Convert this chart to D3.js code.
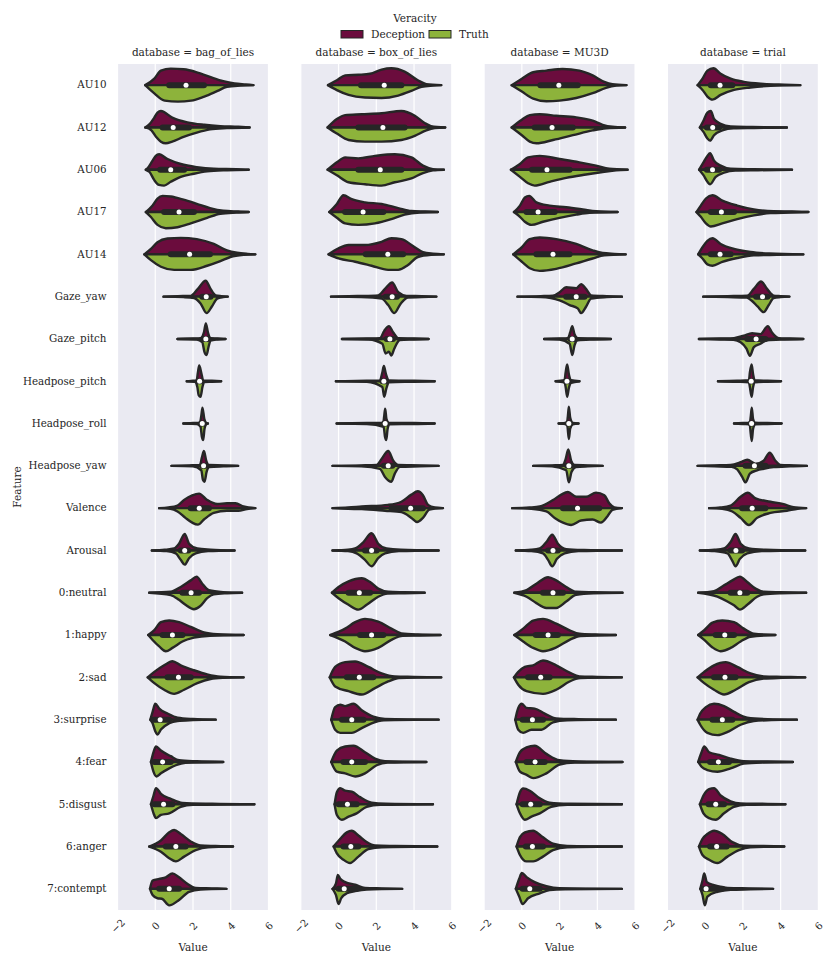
<!DOCTYPE html>
<html>
<head>
<meta charset="utf-8">
<script src="https://cdn.jsdelivr.net/npm/d3@7.9.0/dist/d3.min.js"></script>
<style>
  body { margin: 0; background: #fff; }
  text { font-family: "DejaVu Serif", serif; fill: #262626; }
</style>
</head>
<body>
<svg id="chart" width="831" height="965"></svg>
<script>
const features = ["AU10", "AU12", "AU06", "AU17", "AU14", "Gaze_yaw", "Gaze_pitch", "Headpose_pitch",
  "Headpose_roll", "Headpose_yaw", "Valence", "Arousal", "0:neutral", "1:happy", "2:sad", "3:surprise",
  "4:fear", "5:disgust", "6:anger", "7:contempt"];
const databases = ["bag_of_lies", "box_of_lies", "MU3D", "trial"];
const hues = ["Deception", "Truth"];
const xTicks = [-2, 0, 2, 4, 6];

// each violin half: [value, relative density]; boxes: [q1, median, q3]
const bagDeception = [
  [[-0.53,0],[-0.05,0.4],[0.3,0.88],[0.82,1.0],[1.5,0.96],[2.2,0.78],[2.9,0.5],[3.6,0.24],[4.2,0.1],[4.8,0.04],[5.2,0]],
  [[-0.53,0],[-0.3,0.2],[-0.05,0.6],[0.12,0.9],[0.3,1.0],[0.9,0.6],[1.7,0.31],[2.6,0.16],[3.45,0.08],[4.4,0.04],[5.0,0]],
  [[-0.5,0],[-0.4,0.1],[-0.14,0.55],[0.03,0.84],[0.2,0.94],[0.65,0.65],[1.35,0.35],[2.2,0.16],[3.1,0.06],[4.3,0.03],[4.95,0]],
  [[-0.5,0],[-0.14,0.4],[0.12,0.82],[0.39,0.98],[0.82,0.94],[1.5,0.75],[2.2,0.5],[2.9,0.24],[3.6,0.08],[4.4,0.03],[4.95,0]],
  [[-0.58,0],[-0.23,0.33],[0.12,0.73],[0.65,0.96],[1.35,1.0],[2.2,0.92],[3.1,0.63],[3.8,0.24],[4.33,0.1],[4.9,0.03],[5.3,0]],
  [[0.44,0],[1.2,0.03],[1.88,0.05],[2.26,0.47],[2.67,0.96],[2.93,0.47],[3.2,0.08],[3.5,0.03],[3.84,0]],
  [[1.18,0],[2.0,0.03],[2.4,0.05],[2.58,0.4],[2.68,0.94],[2.79,0.4],[2.93,0.05],[3.3,0.03],[3.72,0]],
  [[1.67,0],[2.0,0.03],[2.19,0.05],[2.26,0.53],[2.33,0.96],[2.44,0.5],[2.54,0.05],[3.0,0.03],[3.49,0]],
  [[1.49,0],[2.0,0.03],[2.37,0.05],[2.44,0.47],[2.5,0.96],[2.6,0.27],[2.7,0.04],[2.79,0]],
  [[0.86,0],[1.8,0.03],[2.37,0.06],[2.47,0.5],[2.58,0.9],[2.7,0.31],[2.84,0.05],[3.6,0.03],[4.39,0]],
  [[0.21,0],[0.7,0.04],[1.18,0.16],[1.53,0.5],[1.96,0.78],[2.32,0.88],[2.75,0.5],[3.28,0.25],[3.8,0.3],[4.25,0.3],[4.68,0.1],[5.3,0]],
  [[-0.18,0],[0.5,0.04],[1.0,0.12],[1.26,0.41],[1.56,1.0],[1.79,0.41],[2.23,0.12],[2.93,0.05],[4.2,0]],
  [[-0.32,0],[0.82,0.06],[1.35,0.35],[1.88,0.75],[2.19,0.98],[2.49,0.55],[2.84,0.16],[3.6,0.04],[4.6,0]],
  [[-0.37,0],[-0.05,0.3],[0.3,0.78],[0.74,0.88],[1.26,0.78],[1.88,0.49],[2.58,0.16],[3.28,0.05],[4.68,0]],
  [[-0.4,0],[-0.05,0.33],[0.47,0.73],[0.91,0.98],[1.35,0.73],[2.05,0.43],[2.75,0.18],[3.45,0.04],[4.68,0]],
  [[-0.26,0],[-0.14,0.47],[0,0.96],[0.21,0.67],[0.65,0.37],[1.18,0.12],[2.0,0.04],[3.2,0]],
  [[-0.23,0],[-0.09,0.6],[0.04,0.94],[0.3,0.69],[0.82,0.35],[1.26,0.1],[2.2,0.04],[3.6,0]],
  [[-0.23,0],[-0.09,0.53],[0.04,0.98],[0.3,0.63],[0.82,0.33],[1.44,0.08],[3.0,0.03],[5.25,0]],
  [[-0.32,0],[0.3,0.37],[0.74,0.86],[1.0,1.0],[1.35,0.76],[1.88,0.31],[2.4,0.06],[3.2,0.03],[4.12,0]],
  [[-0.28,0],[-0.14,0.5],[0.21,0.6],[0.56,0.7],[0.91,0.94],[1.26,0.7],[1.7,0.31],[2.14,0.06],[3.0,0.03],[3.77,0]]
];
const bagTruth = [
  [[-0.53,0],[-0.05,0.5],[0.5,0.94],[1.2,1.0],[1.9,0.94],[2.6,0.69],[3.3,0.35],[3.8,0.1],[4.5,0.03],[5.2,0]],
  [[-0.53,0],[-0.2,0.18],[0.04,0.57],[0.3,0.86],[0.56,0.96],[0.9,0.86],[1.5,0.57],[2.2,0.31],[2.9,0.12],[3.8,0.04],[5.0,0]],
  [[-0.5,0],[-0.3,0.14],[-0.05,0.63],[0.2,0.92],[0.47,0.96],[0.82,0.73],[1.35,0.43],[2.05,0.24],[2.75,0.1],[3.8,0.03],[4.95,0]],
  [[-0.5,0],[-0.23,0.3],[0.12,0.78],[0.56,0.98],[1.18,0.92],[1.88,0.69],[2.75,0.35],[3.45,0.1],[4.3,0.03],[4.95,0]],
  [[-0.58,0],[-0.23,0.35],[0.3,0.75],[1.0,0.94],[1.88,0.94],[2.75,0.69],[3.45,0.41],[3.98,0.16],[4.7,0.03],[5.3,0]],
  [[0.44,0],[1.5,0.03],[2.05,0.08],[2.4,0.41],[2.72,1.0],[3.0,0.6],[3.28,0.12],[3.6,0.03],[3.84,0]],
  [[1.18,0],[2.2,0.03],[2.49,0.2],[2.61,0.8],[2.72,0.98],[2.82,0.5],[2.93,0.1],[3.3,0.03],[3.72,0]],
  [[1.67,0],[2.1,0.03],[2.23,0.35],[2.3,0.84],[2.4,0.94],[2.5,0.35],[2.6,0.05],[3.0,0.03],[3.49,0]],
  [[1.49,0],[2.2,0.03],[2.4,0.2],[2.47,0.8],[2.54,1.0],[2.61,0.31],[2.7,0.04],[2.79,0]],
  [[0.86,0],[2.0,0.03],[2.44,0.27],[2.53,0.86],[2.61,0.96],[2.72,0.37],[2.86,0.08],[3.6,0.03],[4.39,0]],
  [[0.21,0],[0.8,0.04],[1.18,0.2],[1.6,0.59],[1.96,0.88],[2.26,1.0],[2.58,0.69],[3.1,0.29],[3.8,0.16],[4.4,0.16],[4.86,0.05],[5.3,0]],
  [[-0.18,0],[0.6,0.04],[1.09,0.18],[1.35,0.57],[1.56,0.86],[1.79,0.47],[2.14,0.18],[2.8,0.04],[4.2,0]],
  [[-0.32,0],[0.82,0.14],[1.26,0.43],[1.6,0.73],[2.05,1.0],[2.37,0.82],[2.75,0.33],[3.1,0.1],[3.8,0.03],[4.6,0]],
  [[-0.37,0],[-0.14,0.3],[0.21,0.69],[0.56,0.98],[0.91,0.78],[1.44,0.39],[2.05,0.16],[2.9,0.04],[4.68,0]],
  [[-0.4,0],[-0.05,0.35],[0.47,0.75],[1.0,1.0],[1.53,0.75],[2.23,0.35],[2.93,0.1],[3.6,0.03],[4.68,0]],
  [[-0.26,0],[-0.14,0.22],[0,0.7],[0.12,0.9],[0.3,0.6],[0.74,0.22],[1.18,0.08],[2.0,0.03],[3.2,0]],
  [[-0.23,0],[-0.09,0.6],[0.07,0.88],[0.3,0.69],[0.74,0.39],[1.09,0.2],[1.6,0.05],[3.6,0]],
  [[-0.23,0],[-0.09,0.55],[0.04,0.84],[0.3,0.65],[0.74,0.55],[1.35,0.16],[2.0,0.04],[5.25,0]],
  [[-0.32,0],[0.3,0.31],[0.74,0.71],[1.09,0.9],[1.53,0.61],[2.14,0.22],[2.8,0.04],[4.12,0]],
  [[-0.28,0],[-0.14,0.37],[0.12,0.57],[0.35,0.6],[0.74,1.0],[1.26,0.67],[1.79,0.18],[2.4,0.04],[3.77,0]]
];
const bagBoxes = [[0.74,1.63,2.58],[0.39,0.95,1.79],[0.26,0.82,1.53],[0.47,1.26,2.05],[0.82,1.82,2.9],
  [2.49,2.7,2.93],[2.58,2.68,2.8],[2.28,2.35,2.42],[2.43,2.49,2.55],[2.48,2.56,2.66],
  [1.88,2.33,2.84],[1.35,1.56,1.75],[1.44,1.9,2.32],[0.39,0.91,1.44],[0.65,1.23,1.88],
  [-0.09,0.26,0.74],[-0.05,0.39,0.82],[-0.05,0.44,0.91],[0.56,1.09,1.61],[0.21,0.74,1.26]];

const boxDeception = [
  [[-0.56,0],[-0.09,0.3],[0.35,0.59],[1.05,0.63],[1.67,0.69],[2.28,0.94],[2.8,1.02],[3.5,0.82],[4.2,0.3],[4.65,0.06],[5.44,0]],
  [[-0.58,0],[-0.09,0.51],[0.35,0.75],[1.23,0.8],[2.28,0.86],[3.33,1.0],[4.04,0.71],[4.56,0.27],[4.9,0.08],[5.65,0]],
  [[-0.58,0],[-0.09,0.45],[0.35,0.75],[1.05,0.69],[1.93,0.84],[2.98,0.94],[3.86,0.75],[4.47,0.25],[5.0,0.04],[5.58,0]],
  [[-0.49,0],[-0.09,0.49],[0.26,1.02],[0.7,0.78],[1.4,0.59],[2.28,0.49],[3.16,0.24],[3.86,0.06],[4.6,0.03],[5.26,0]],
  [[-0.53,0],[0,0.37],[0.53,0.57],[1.4,0.57],[2.28,0.76],[2.8,0.98],[3.33,0.92],[4.04,0.43],[4.47,0.14],[5.0,0.04],[5.58,0]],
  [[-0.4,0],[1.0,0.04],[2.1,0.08],[2.46,0.47],[2.84,0.86],[3.16,0.27],[3.6,0.05],[4.4,0.03],[5.18,0]],
  [[0.18,0],[1.5,0.03],[2.19,0.05],[2.42,0.49],[2.67,0.78],[2.9,0.39],[3.16,0.05],[4.0,0.03],[4.77,0]],
  [[-0.14,0],[1.5,0.03],[2.19,0.05],[2.32,0.53],[2.4,0.92],[2.51,0.43],[2.67,0.05],[4.0,0.03],[5.09,0]],
  [[-0.1,0],[1.5,0.03],[2.37,0.05],[2.42,0.47],[2.47,0.9],[2.54,0.27],[2.67,0.04],[4.0,0.03],[5.09,0]],
  [[-0.32,0],[1.2,0.03],[2.02,0.06],[2.28,0.41],[2.63,0.9],[2.9,0.31],[3.16,0.05],[4.3,0.03],[5.3,0]],
  [[-0.32,0],[0.5,0.04],[1.23,0.1],[2.63,0.2],[3.33,0.39],[3.86,0.82],[4.2,1.02],[4.47,0.78],[4.74,0.2],[5.1,0.04],[5.53,0]],
  [[-0.32,0],[0.5,0.04],[0.88,0.12],[1.32,0.51],[1.75,1.04],[2.1,0.41],[2.54,0.12],[3.3,0.04],[5.3,0]],
  [[-0.35,0],[0,0.35],[0.53,0.69],[1.23,0.88],[1.67,0.65],[2.1,0.25],[2.63,0.06],[3.5,0.03],[4.56,0]],
  [[-0.44,0],[0.35,0.39],[0.88,0.78],[1.4,0.98],[2.1,0.82],[2.8,0.39],[3.33,0.1],[4.2,0.03],[5.4,0]],
  [[-0.47,0],[-0.18,0.63],[0.35,0.92],[0.88,0.96],[1.58,0.63],[2.28,0.24],[2.98,0.05],[4.0,0.03],[5.44,0]],
  [[-0.39,0],[-0.18,0.76],[0.09,0.9],[0.35,0.82],[0.79,0.96],[1.23,0.57],[1.84,0.18],[2.46,0.04],[5.3,0]],
  [[-0.39,0],[-0.09,0.69],[0.35,0.94],[0.79,0.98],[1.4,0.59],[1.93,0.2],[2.46,0.04],[4.65,0]],
  [[-0.21,0],[-0.09,0.73],[0.09,0.98],[0.35,0.82],[0.7,0.76],[1.14,0.43],[1.75,0.1],[2.5,0.03],[5.0,0]],
  [[-0.26,0],[0.09,0.47],[0.44,0.86],[0.7,0.96],[1.05,0.67],[1.49,0.27],[1.93,0.06],[3.0,0.03],[5.23,0]],
  [[-0.32,0],[-0.14,0.31],[-0.04,0.84],[0.09,0.61],[0.35,0.41],[0.88,0.25],[1.4,0.06],[2.3,0.03],[3.37,0]]
];
const boxTruth = [
  [[-0.56,0],[-0.09,0.3],[0.53,0.59],[1.4,0.75],[2.28,0.78],[3.16,0.63],[3.86,0.35],[4.4,0.1],[5.0,0.03],[5.44,0]],
  [[-0.58,0],[-0.09,0.37],[0.53,0.76],[1.4,0.86],[2.28,0.86],[3.33,0.76],[4.04,0.51],[4.65,0.18],[5.1,0.04],[5.65,0]],
  [[-0.58,0],[-0.09,0.33],[0.53,0.76],[1.4,0.88],[2.28,0.96],[2.98,0.76],[3.86,0.53],[4.47,0.2],[5.0,0.04],[5.58,0]],
  [[-0.49,0],[-0.09,0.35],[0.35,0.69],[1.05,0.78],[1.93,0.69],[2.8,0.43],[3.5,0.16],[4.3,0.03],[5.26,0]],
  [[-0.53,0],[0,0.25],[0.88,0.45],[1.75,0.69],[2.63,0.94],[3.16,0.94],[3.68,0.65],[4.2,0.16],[4.9,0.03],[5.58,0]],
  [[-0.4,0],[1.2,0.03],[2.28,0.12],[2.63,0.51],[2.95,1.0],[3.3,0.41],[3.68,0.05],[4.4,0.03],[5.18,0]],
  [[0.18,0],[1.6,0.03],[2.32,0.29],[2.49,0.88],[2.67,0.78],[2.8,1.0],[2.95,0.59],[3.25,0.06],[4.0,0.03],[4.77,0]],
  [[-0.14,0],[1.5,0.03],[2.32,0.35],[2.42,0.94],[2.53,0.45],[2.67,0.06],[4.0,0.03],[5.09,0]],
  [[-0.1,0],[1.5,0.03],[2.39,0.2],[2.46,0.8],[2.53,1.0],[2.6,0.31],[2.7,0.04],[4.0,0.03],[5.09,0]],
  [[-0.32,0],[1.2,0.03],[2.19,0.18],[2.46,0.67],[2.8,0.96],[2.98,0.47],[3.25,0.06],[4.3,0.03],[5.3,0]],
  [[-0.32,0],[0.5,0.04],[1.23,0.06],[2.46,0.16],[3.33,0.24],[3.86,0.59],[4.16,0.84],[4.47,0.59],[4.82,0.08],[5.53,0]],
  [[-0.32,0],[0.5,0.04],[0.96,0.18],[1.4,0.57],[1.75,0.96],[2.1,0.47],[2.46,0.18],[3.2,0.04],[5.3,0]],
  [[-0.35,0],[0,0.33],[0.53,0.73],[1.05,1.02],[1.49,0.73],[2.1,0.24],[2.6,0.05],[3.5,0.03],[4.56,0]],
  [[-0.44,0],[0.35,0.39],[0.88,0.78],[1.4,0.98],[2.1,0.78],[2.8,0.29],[3.4,0.05],[4.3,0.03],[5.4,0]],
  [[-0.47,0],[-0.18,0.55],[0.53,0.84],[1.23,1.04],[1.93,0.65],[2.63,0.25],[3.2,0.04],[5.44,0]],
  [[-0.39,0],[-0.18,0.61],[0.09,0.8],[0.7,0.8],[1.23,0.51],[1.75,0.22],[2.4,0.04],[5.3,0]],
  [[-0.39,0],[-0.09,0.59],[0.35,0.69],[0.88,0.88],[1.4,0.69],[2.02,0.2],[2.6,0.04],[4.65,0]],
  [[-0.21,0],[-0.09,0.65],[0.18,0.94],[0.53,0.75],[0.96,0.55],[1.49,0.16],[2.2,0.04],[5.0,0]],
  [[-0.26,0],[-0.09,0.41],[0.26,0.8],[0.61,1.0],[1.05,0.61],[1.58,0.16],[2.3,0.04],[5.23,0]],
  [[-0.32,0],[-0.14,0.37],[0,0.92],[0.14,0.57],[0.44,0.27],[0.88,0.14],[1.5,0.04],[3.37,0]]
];
const boxBoxes = [[1.19,2.42,3.33],[1.05,2.35,3.5],[1.05,2.21,3.33],[0.35,1.3,2.37],[1.44,2.61,3.42],
  [2.5,2.84,3.1],[2.55,2.72,2.88],[2.33,2.4,2.48],[2.42,2.47,2.52],[2.4,2.63,2.85],
  [2.8,3.82,4.47],[1.4,1.75,2.02],[0.53,1.1,1.67],[1.14,1.75,2.37],[0.44,1.1,1.84],
  [0.18,0.7,1.32],[0.26,0.7,1.4],[0,0.47,0.96],[0.26,0.65,1.05],[0,0.3,0.96]];

const mu3dDeception = [
  [[-0.54,0],[0,0.39],[0.6,0.78],[1.3,0.88],[2.16,0.98],[3.05,0.88],[3.75,0.59],[4.37,0.2],[4.8,0.06],[5.54,0]],
  [[-0.54,0],[0,0.47],[0.42,0.75],[0.95,0.8],[1.82,0.71],[2.88,0.61],[3.75,0.41],[4.28,0.16],[4.8,0.04],[5.47,0]],
  [[-0.58,0],[-0.1,0.35],[0.33,0.75],[0.95,0.84],[2.0,0.65],[3.05,0.45],[3.93,0.25],[4.63,0.06],[5.6,0]],
  [[-0.42,0],[-0.1,0.39],[0.16,0.88],[0.39,0.98],[0.77,0.59],[1.47,0.39],[2.35,0.29],[3.23,0.16],[3.93,0.05],[5.07,0]],
  [[-0.46,0],[0,0.43],[0.42,0.92],[0.95,1.02],[1.82,0.92],[2.88,0.63],[3.75,0.24],[4.28,0.08],[4.9,0.03],[5.5,0]],
  [[-0.23,0],[1.0,0.03],[1.65,0.06],[2.0,0.27],[2.35,0.57],[2.88,0.51],[3.14,0.76],[3.4,0.47],[3.67,0.08],[4.5,0.03],[5.3,0]],
  [[1.18,0],[2.0,0.03],[2.44,0.05],[2.56,0.39],[2.67,0.78],[2.79,0.29],[2.96,0.05],[3.8,0.03],[4.72,0]],
  [[1.79,0],[2.26,0.06],[2.32,0.53],[2.4,1.02],[2.49,0.43],[2.61,0.06],[3.05,0]],
  [[1.95,0],[2.39,0.05],[2.44,0.47],[2.49,1.02],[2.56,0.37],[2.7,0.04],[3.0,0]],
  [[0.6,0],[1.6,0.03],[2.16,0.05],[2.32,0.41],[2.46,1.0],[2.61,0.31],[2.79,0.05],[3.5,0.03],[4.28,0]],
  [[-0.51,0],[0.4,0.04],[0.95,0.1],[1.65,0.49],[2.09,0.82],[2.44,0.98],[2.88,0.69],[3.4,0.69],[3.93,0.94],[4.37,0.78],[4.63,0.29],[4.9,0.05],[5.3,0]],
  [[-0.32,0],[0.5,0.04],[0.95,0.12],[1.3,0.51],[1.61,0.96],[1.91,0.41],[2.35,0.08],[3.3,0.03],[5.3,0]],
  [[-0.4,0],[0.25,0.16],[0.77,0.55],[1.39,0.94],[1.82,0.75],[2.35,0.35],[2.88,0.06],[3.8,0.03],[5.33,0]],
  [[-0.4,0],[0.07,0.39],[0.6,0.88],[1.12,0.98],[1.82,0.69],[2.53,0.29],[3.05,0.08],[3.9,0.03],[4.98,0]],
  [[-0.42,0],[-0.19,0.33],[0.16,0.63],[0.6,0.73],[1.12,1.02],[1.82,0.73],[2.53,0.29],[3.05,0.06],[4.0,0.03],[5.3,0]],
  [[-0.35,0],[-0.19,0.71],[0,0.96],[0.25,0.71],[0.68,0.67],[1.21,0.37],[1.82,0.08],[3.0,0.03],[4.98,0]],
  [[-0.32,0],[-0.1,0.59],[0.25,0.88],[0.68,0.98],[1.3,0.49],[2.0,0.1],[3.0,0.03],[5.33,0]],
  [[-0.28,0],[-0.1,0.73],[0.07,0.96],[0.42,0.82],[0.86,0.43],[1.47,0.1],[2.5,0.03],[5.3,0]],
  [[-0.28,0],[-0.1,0.57],[0.16,0.86],[0.6,0.96],[1.04,0.63],[1.65,0.18],[2.4,0.04],[5.3,0]],
  [[-0.32,0],[-0.14,0.61],[0,0.96],[0.25,0.71],[0.68,0.41],[1.3,0.16],[2.0,0.04],[5.3,0]]
];
const mu3dTruth = [
  [[-0.54,0],[0,0.39],[0.6,0.82],[1.3,0.98],[2.0,0.94],[2.88,0.78],[3.75,0.49],[4.46,0.16],[5.0,0.03],[5.54,0]],
  [[-0.54,0],[0,0.47],[0.42,0.86],[0.77,0.96],[1.65,0.76],[2.7,0.47],[3.75,0.18],[4.46,0.05],[5.47,0]],
  [[-0.58,0],[-0.1,0.43],[0.33,0.82],[0.68,0.96],[1.47,0.73],[2.35,0.49],[3.4,0.29],[4.28,0.14],[5.0,0.03],[5.6,0]],
  [[-0.42,0],[-0.1,0.29],[0.16,0.59],[0.51,0.78],[1.12,0.59],[2.0,0.35],[2.88,0.16],[3.58,0.05],[5.07,0]],
  [[-0.46,0],[0,0.45],[0.42,0.84],[0.95,1.0],[1.82,0.88],[2.88,0.55],[3.75,0.25],[4.37,0.06],[5.5,0]],
  [[-0.23,0],[1.0,0.03],[2.0,0.22],[2.53,0.51],[2.96,0.71],[3.14,1.0],[3.4,0.61],[3.67,0.12],[4.5,0.03],[5.3,0]],
  [[1.18,0],[2.0,0.03],[2.53,0.29],[2.67,0.98],[2.79,0.39],[2.96,0.08],[3.8,0.03],[4.72,0]],
  [[1.79,0],[2.26,0.06],[2.32,0.35],[2.4,0.94],[2.49,0.41],[2.61,0.1],[3.05,0]],
  [[1.95,0],[2.39,0.05],[2.42,0.2],[2.49,0.94],[2.56,0.31],[2.7,0.04],[3.0,0]],
  [[0.6,0],[1.6,0.03],[2.35,0.27],[2.49,1.0],[2.63,0.37],[2.86,0.08],[3.5,0.03],[4.28,0]],
  [[-0.51,0],[0.5,0.04],[1.3,0.2],[1.74,0.59],[2.18,0.88],[2.61,1.02],[3.14,0.75],[3.75,0.69],[4.19,0.88],[4.54,0.49],[4.8,0.1],[5.3,0]],
  [[-0.32,0],[0.5,0.04],[1.12,0.18],[1.39,0.57],[1.61,0.96],[1.86,0.51],[2.26,0.18],[3.0,0.04],[5.3,0]],
  [[-0.4,0],[0.25,0.24],[0.77,0.63],[1.3,0.92],[1.82,0.92],[2.35,0.53],[2.88,0.12],[3.8,0.03],[5.33,0]],
  [[-0.4,0],[0.07,0.39],[0.6,0.78],[1.12,0.98],[1.82,0.75],[2.53,0.29],[3.1,0.06],[4.98,0]],
  [[-0.42,0],[-0.19,0.45],[0.25,0.84],[1.12,1.0],[1.82,0.75],[2.53,0.25],[3.1,0.05],[5.3,0]],
  [[-0.35,0],[-0.19,0.61],[0.07,0.8],[0.51,0.61],[1.04,0.61],[1.65,0.16],[2.4,0.04],[4.98,0]],
  [[-0.32,0],[-0.1,0.59],[0.25,0.78],[0.6,0.98],[1.3,0.69],[2.0,0.16],[2.8,0.04],[5.33,0]],
  [[-0.28,0],[-0.1,0.55],[0.16,0.94],[0.51,0.75],[0.95,0.55],[1.56,0.16],[2.4,0.04],[5.3,0]],
  [[-0.28,0],[-0.1,0.51],[0.25,0.9],[0.6,0.9],[1.12,0.61],[1.65,0.22],[2.4,0.04],[5.3,0]],
  [[-0.32,0],[-0.14,0.47],[0.04,0.92],[0.33,0.57],[0.95,0.27],[1.47,0.08],[2.3,0.03],[5.3,0]]
];
const mu3dBoxes = [[0.98,1.96,2.96],[0.68,1.6,2.7],[0.54,1.33,2.53],[0.25,0.86,1.74],[0.77,1.65,2.53],
  [2.35,2.88,3.32],[2.58,2.67,2.77],[2.33,2.39,2.45],[2.44,2.49,2.54],[2.4,2.49,2.58],
  [2.18,2.95,4.1],[1.39,1.65,1.91],[1.12,1.65,2.18],[0.74,1.39,1.91],[0.33,1.0,1.47],
  [0.04,0.56,1.12],[0.25,0.7,1.21],[0.04,0.47,0.95],[0.21,0.56,1.12],[0.04,0.42,0.95]];

const trialDeception = [
  [[-0.4,0],[-0.14,0.39],[0.12,0.88],[0.44,1.02],[0.82,0.69],[1.35,0.39],[2.05,0.2],[3.1,0.08],[4.2,0.03],[5.04,0]],
  [[-0.28,0],[-0.09,0.41],[0.12,0.9],[0.3,1.0],[0.47,0.51],[0.82,0.22],[1.35,0.06],[2.5,0.03],[4.33,0]],
  [[-0.32,0],[-0.09,0.45],[0.12,0.84],[0.26,1.0],[0.47,0.55],[0.82,0.25],[1.35,0.06],[2.6,0.03],[4.6,0]],
  [[-0.46,0],[-0.23,0.39],[0.04,0.82],[0.39,1.02],[0.91,0.69],[1.7,0.39],[2.58,0.16],[3.63,0.05],[4.6,0.03],[5.47,0]],
  [[-0.37,0],[-0.14,0.43],[0.12,0.82],[0.39,0.98],[0.82,0.63],[1.53,0.33],[2.4,0.14],[3.4,0.05],[5.2,0]],
  [[-0.1,0],[1.2,0.03],[2.23,0.06],[2.58,0.47],[2.96,0.92],[3.28,0.47],[3.63,0.06],[4.0,0.03],[4.46,0]],
  [[-0.33,0],[0.8,0.03],[1.53,0.05],[2.05,0.2],[2.49,0.35],[2.93,0.29],[3.32,0.78],[3.54,0.39],[3.9,0.05],[4.5,0.03],[5.2,0]],
  [[0.68,0],[1.7,0.03],[2.32,0.06],[2.37,0.53],[2.46,1.02],[2.54,0.43],[2.62,0.06],[3.3,0.03],[4.02,0]],
  [[1.53,0],[2.0,0.03],[2.37,0.05],[2.42,0.47],[2.47,0.96],[2.54,0.27],[2.65,0.05],[3.3,0.03],[4.05,0]],
  [[-0.4,0],[0.5,0.03],[1.35,0.06],[1.88,0.22],[2.23,0.37],[2.67,0.12],[3.1,0.31],[3.42,0.8],[3.72,0.31],[3.98,0.06],[4.7,0.03],[5.39,0]],
  [[0.21,0],[0.8,0.04],[1.35,0.16],[1.88,0.69],[2.26,0.94],[2.67,0.59],[3.46,0.39],[4.16,0.24],[4.68,0.06],[5.35,0]],
  [[-0.28,0],[0.5,0.04],[1.0,0.12],[1.35,0.51],[1.61,1.0],[1.88,0.41],[2.32,0.12],[3.2,0.04],[5.3,0]],
  [[-0.37,0],[0.47,0.1],[1.0,0.45],[1.44,0.75],[1.84,0.98],[2.23,0.65],[2.67,0.25],[3.1,0.06],[4.0,0.03],[5.35,0]],
  [[-0.37,0],[-0.05,0.29],[0.39,0.75],[0.91,0.88],[1.53,0.78],[2.05,0.39],[2.58,0.08],[3.72,0]],
  [[-0.4,0],[-0.05,0.33],[0.47,0.73],[1.09,0.92],[1.7,0.63],[2.4,0.24],[3.1,0.06],[4.1,0.03],[5.3,0]],
  [[-0.4,0],[-0.26,0.37],[0.04,0.76],[0.47,0.96],[1.0,0.82],[1.53,0.47],[2.23,0.12],[3.3,0.03],[4.86,0]],
  [[-0.37,0],[-0.19,0.59],[-0.05,0.94],[0.21,0.59],[0.74,0.43],[1.35,0.2],[2.05,0.05],[3.3,0.03],[4.65,0]],
  [[-0.28,0],[-0.09,0.53],[0.21,0.92],[0.47,0.98],[0.82,0.53],[1.35,0.18],[1.88,0.05],[3.0,0.03],[4.25,0]],
  [[-0.33,0],[-0.14,0.47],[0.12,0.76],[0.47,0.96],[0.91,0.76],[1.44,0.27],[2.05,0.05],[3.1,0.03],[4.19,0]],
  [[-0.26,0],[-0.14,0.51],[-0.05,0.94],[0.09,0.41],[0.47,0.22],[1.18,0.06],[2.3,0.03],[3.6,0]]
];
const trialTruth = [
  [[-0.4,0],[-0.14,0.29],[0.12,0.69],[0.39,0.88],[0.82,0.59],[1.53,0.29],[2.4,0.14],[3.46,0.04],[5.04,0]],
  [[-0.28,0],[-0.09,0.27],[0.12,0.67],[0.26,0.8],[0.47,0.47],[0.91,0.18],[1.5,0.05],[2.6,0.03],[4.33,0]],
  [[-0.32,0],[-0.09,0.33],[0.12,0.73],[0.26,0.88],[0.56,0.43],[1.0,0.18],[1.6,0.05],[2.8,0.03],[4.6,0]],
  [[-0.46,0],[-0.23,0.29],[0.04,0.69],[0.3,0.88],[0.91,0.69],[1.7,0.43],[2.58,0.2],[3.46,0.06],[4.5,0.03],[5.47,0]],
  [[-0.37,0],[-0.14,0.25],[0.12,0.61],[0.39,0.69],[0.91,0.45],[1.7,0.22],[2.58,0.06],[3.8,0.03],[5.2,0]],
  [[-0.1,0],[1.2,0.03],[2.2,0.06],[2.44,0.22],[2.79,0.61],[3.1,0.94],[3.37,0.51],[3.63,0.08],[4.0,0.03],[4.46,0]],
  [[-0.33,0],[0.8,0.03],[1.5,0.05],[1.88,0.2],[2.19,0.59],[2.37,1.02],[2.58,0.49],[2.93,0.29],[3.28,0.08],[4.2,0.03],[5.2,0]],
  [[0.68,0],[1.7,0.03],[2.32,0.06],[2.37,0.35],[2.46,0.94],[2.54,0.35],[2.62,0.06],[3.3,0.03],[4.02,0]],
  [[1.53,0],[2.0,0.03],[2.37,0.05],[2.39,0.31],[2.47,1.06],[2.54,0.31],[2.65,0.05],[3.3,0.03],[4.05,0]],
  [[-0.4,0],[0.5,0.03],[1.4,0.06],[1.7,0.22],[1.96,0.67],[2.14,1.0],[2.37,0.47],[2.75,0.27],[3.1,0.18],[3.63,0.08],[4.5,0.03],[5.39,0]],
  [[0.21,0],[0.9,0.04],[1.44,0.2],[1.88,0.59],[2.32,1.02],[2.75,0.59],[3.46,0.29],[4.33,0.16],[4.9,0.04],[5.35,0]],
  [[-0.28,0],[0.5,0.04],[1.18,0.18],[1.44,0.63],[1.61,0.96],[1.84,0.51],[2.23,0.18],[3.0,0.04],[5.3,0]],
  [[-0.37,0],[0.65,0.24],[1.18,0.53],[1.53,0.76],[1.84,1.02],[2.23,0.73],[2.75,0.24],[3.1,0.1],[4.0,0.03],[5.35,0]],
  [[-0.37,0],[-0.05,0.29],[0.39,0.75],[0.82,0.98],[1.35,0.78],[1.88,0.39],[2.4,0.1],[3.72,0]],
  [[-0.4,0],[-0.05,0.35],[0.47,0.75],[1.0,1.04],[1.61,0.75],[2.32,0.29],[3.1,0.08],[4.1,0.03],[5.3,0]],
  [[-0.4,0],[-0.26,0.31],[0.12,0.8],[0.65,0.94],[1.26,0.71],[1.88,0.31],[2.58,0.08],[3.5,0.03],[4.86,0]],
  [[-0.37,0],[-0.19,0.29],[0.12,0.49],[0.65,0.59],[1.35,0.39],[2.05,0.1],[3.0,0.03],[4.65,0]],
  [[-0.28,0],[-0.09,0.55],[0.21,0.84],[0.56,0.94],[1.0,0.55],[1.53,0.16],[2.2,0.04],[4.25,0]],
  [[-0.33,0],[-0.14,0.51],[0.21,0.8],[0.65,1.0],[1.18,0.61],[1.79,0.22],[2.4,0.04],[4.19,0]],
  [[-0.26,0],[-0.14,0.37],[-0.02,1.0],[0.12,0.47],[0.65,0.18],[1.35,0.06],[2.4,0.03],[3.6,0]]
];
const trialBoxes = [[0.3,0.79,1.44],[0.09,0.4,0.74],[0.09,0.39,0.74],[0.3,0.86,1.53],[0.3,0.79,1.35],
  [2.7,3.04,3.3],[2.23,2.7,3.19],[2.4,2.44,2.5],[2.42,2.46,2.51],[2.14,2.61,3.19],
  [1.96,2.49,3.19],[1.35,1.63,1.96],[1.35,1.84,2.23],[0.56,1.04,1.53],[0.47,1.05,1.61],
  [0.39,0.91,1.44],[0.26,0.7,1.26],[0.18,0.56,1.0],[0.26,0.61,1.14],[-0.05,0.05,0.91]];

const panels = [
  { db: databases[0], dec: bagDeception, tru: bagTruth, box: bagBoxes },
  { db: databases[1], dec: boxDeception, tru: boxTruth, box: boxBoxes },
  { db: databases[2], dec: mu3dDeception, tru: mu3dTruth, box: mu3dBoxes },
  { db: databases[3], dec: trialDeception, tru: trialTruth, box: trialBoxes }
];

const color = d3.scaleOrdinal().domain(hues).range(["#6b0c3d", "#8db33b"]);
const ink = "#262626";

const svg = d3.select("#chart");
const plotLeft = 117.5, plotTop = 64, plotBottom = 910;
const panelW = 151, gap = 32.3;

const y = d3.scaleBand().domain(features).range([plotTop, plotBottom]);
const x = d3.scaleLinear().domain([-2, 6]).range([0, panelW]);
const halfW = y.bandwidth() * 0.39;

const upper = d3.area().x(d => x(d[0])).y0(0).y1(d => -d[1] * halfW).curve(d3.curveMonotoneX);
const lower = d3.area().x(d => x(d[0])).y0(0).y1(d => d[1] * halfW).curve(d3.curveMonotoneX);

panels.forEach((p, i) => {
  const g = svg.append("g").attr("transform", `translate(${plotLeft + i * (panelW + gap)},0)`);

  g.append("rect")
    .attr("x", 0).attr("y", plotTop)
    .attr("width", panelW).attr("height", plotBottom - plotTop)
    .attr("fill", "#eaeaf2");

  g.selectAll(".grid")
    .data(xTicks)
    .enter().append("line")
    .attr("x1", d => x(d)).attr("x2", d => x(d))
    .attr("y1", plotTop).attr("y2", plotBottom)
    .attr("stroke", "#fff").attr("stroke-width", 1.2);

  g.append("text")
    .attr("x", panelW / 2).attr("y", 55.5)
    .attr("text-anchor", "middle")
    .attr("font-size", "10.5px")
    .text(`database = ${p.db}`);

  const rows = g.selectAll(".violin")
    .data(features)
    .enter().append("g")
    .attr("class", "violin")
    .attr("transform", f => `translate(0,${y(f) + y.bandwidth() / 2})`);

  rows.append("path")
    .attr("d", (f, j) => upper(p.dec[j]))
    .attr("fill", color("Deception"))
    .attr("stroke", ink).attr("stroke-width", 2.4).attr("stroke-linejoin", "round");

  rows.append("path")
    .attr("d", (f, j) => lower(p.tru[j]))
    .attr("fill", color("Truth"))
    .attr("stroke", ink).attr("stroke-width", 2.4).attr("stroke-linejoin", "round");

  rows.append("line")
    .attr("x1", (f, j) => x(p.box[j][0]))
    .attr("x2", (f, j) => x(p.box[j][2]))
    .attr("stroke", ink).attr("stroke-width", 6).attr("stroke-linecap", "round");

  rows.append("circle")
    .attr("cx", (f, j) => x(p.box[j][1]))
    .attr("r", 2.5)
    .attr("fill", "#fff");

  const xAxis = g.append("g")
    .attr("transform", `translate(0,${plotBottom})`)
    .call(d3.axisBottom(x).tickValues(xTicks).tickSize(0).tickFormat(d3.format("d")));
  xAxis.select(".domain").remove();
  xAxis.selectAll("text")
    .attr("y", 0).attr("dy", "0.35em")
    .attr("text-anchor", "middle")
    .attr("font-size", "10px")
    .attr("font-family", "DejaVu Serif, serif")
    .attr("fill", ink)
    .attr("transform", "translate(0,16) rotate(-45)");

  g.append("text")
    .attr("x", panelW / 2).attr("y", 951)
    .attr("text-anchor", "middle")
    .attr("font-size", "10.5px")
    .text("Value");

  if (i === 0) {
    const yAxis = g.append("g")
      .call(d3.axisLeft(y).tickSize(0).tickPadding(11));
    yAxis.select(".domain").remove();
    yAxis.selectAll("text")
      .attr("font-size", "10.3px")
      .attr("font-family", "DejaVu Serif, serif")
      .attr("fill", ink);
  }
});

svg.append("text")
  .attr("transform", `translate(17,${(plotTop + plotBottom) / 2}) rotate(-90)`)
  .attr("text-anchor", "middle")
  .attr("dominant-baseline", "central")
  .attr("font-size", "10.5px")
  .text("Feature");

// legend
const legend = svg.append("g");
legend.append("text")
  .attr("x", 415).attr("y", 22)
  .attr("text-anchor", "middle")
  .attr("font-size", "10.5px")
  .text("Veracity");

const legendX = { Deception: 341, Truth: 429 };
const items = legend.selectAll(".item")
  .data(hues)
  .enter().append("g")
  .attr("transform", d => `translate(${legendX[d]},30.5)`);
items.append("rect")
  .attr("width", 22).attr("height", 7.5)
  .attr("fill", d => color(d))
  .attr("stroke", ink).attr("stroke-width", 1);
items.append("text")
  .attr("x", 30).attr("y", 7.5)
  .attr("font-size", "10.5px")
  .text(d => d);
</script>
</body>
</html>
